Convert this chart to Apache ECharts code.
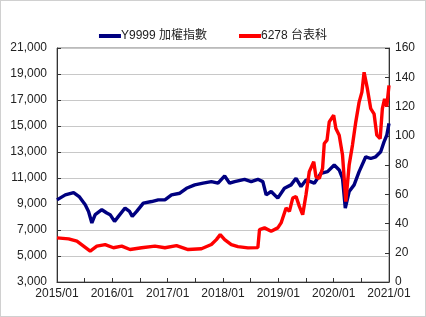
<!DOCTYPE html>
<html><head><meta charset="utf-8">
<script src="https://cdn.jsdelivr.net/npm/echarts@6/dist/echarts.min.js"></script>
<style>html,body{margin:0;padding:0;background:#fff}#c{width:426px;height:317px;box-sizing:border-box;border:1px solid #d0d0d0}</style>
</head><body><div id="c"></div>
<script>
const seriesNames = ['Y9999 加權指數', '6278 台表科'];
const xTicks = ['2015/01','2016/01','2017/01','2018/01','2019/01','2020/01','2021/01'];
const taiexTime = [2015.00,2015.15,2015.30,2015.40,2015.51,2015.57,2015.63,2015.69,2015.81,2015.90,2015.96,2016.04,2016.11,2016.23,2016.31,2016.36,2016.44,2016.56,2016.71,2016.83,2016.95,2017.07,2017.22,2017.34,2017.49,2017.64,2017.79,2017.91,2018.03,2018.12,2018.21,2018.39,2018.51,2018.63,2018.72,2018.78,2018.87,2018.99,2019.11,2019.23,2019.32,2019.41,2019.50,2019.65,2019.77,2019.89,2020.01,2020.10,2020.16,2020.21,2020.28,2020.37,2020.46,2020.58,2020.67,2020.76,2020.85,2020.91,2020.96,2021.00];
const taiexValue = [9320,9700,9880,9570,8940,8430,7540,8180,8560,8310,8180,7660,8050,8690,8430,8050,8430,9070,9190,9320,9320,9700,9830,10210,10470,10600,10720,10600,11160,10600,10720,10900,10720,10900,10720,9700,9960,9450,10210,10470,10980,10340,10850,10600,11360,11490,12000,11620,10980,8690,9960,10470,11490,12630,12500,12630,13020,13780,14290,15200];
const stockTime = [2015.00,2015.21,2015.36,2015.48,2015.60,2015.72,2015.87,2016.02,2016.17,2016.32,2016.53,2016.77,2016.95,2017.16,2017.37,2017.61,2017.79,2017.88,2017.95,2018.03,2018.15,2018.27,2018.45,2018.63,2018.66,2018.75,2018.87,2018.99,2019.05,2019.14,2019.20,2019.26,2019.32,2019.38,2019.44,2019.50,2019.56,2019.64,2019.68,2019.74,2019.80,2019.83,2019.88,2019.92,2020.00,2020.04,2020.10,2020.16,2020.22,2020.28,2020.34,2020.40,2020.46,2020.51,2020.55,2020.61,2020.67,2020.73,2020.78,2020.84,2020.88,2020.92,2020.96,2021.00];
const stockValue = [30.2,29.5,27.9,24.5,21.1,24.5,25.6,23.4,24.5,22.2,23.4,24.5,23.4,24.9,22.2,22.7,25.6,29,32.4,29,25.6,24.2,23.3,23.5,35.8,37,34.7,37,40.4,50.6,48.3,57.4,58.5,51.7,46,59.6,75.5,82.3,72,70.7,77.8,94.7,97,109.5,114,105,100.4,86.8,55,80,93.6,109.5,123,129.8,143.4,132,118.5,115,100.4,98,118.5,125.3,120,134.4];

const ch = echarts.init(document.getElementById('c'));
const font = 'Liberation Sans, Arial, Noto Sans CJK TC, sans-serif';
ch.setOption({
  animation: false,
  textStyle: {fontFamily: font},
  legend: {
    top: 24, left: 'center', itemWidth: 22, itemHeight: 4, itemGap: 32, icon: 'rect',
    textStyle: {fontSize: 12, color: '#222', fontFamily: font, padding: [0,0,0,-5]},
    data: seriesNames
  },
  grid: {left: 56, right: 36, top: 47, bottom: 34, show: true, borderColor: '#777', borderWidth: 1},
  xAxis: {
    type: 'value', min: 2015, max: 2021, interval: 0.5,
    axisLine: {lineStyle: {color: '#333'}},
    axisTick: {inside: true, length: 4, lineStyle: {color: '#333'}},
    splitLine: {show: false},
    axisLabel: {color: '#222', fontSize: 12, margin: 6,
      formatter: v => Number.isInteger(v) ? xTicks[v - 2015] : ''}
  },
  yAxis: [{
    type: 'value', min: 3000, max: 21000, interval: 2000,
    axisLine: {show: true, lineStyle: {color: '#333'}},
    axisTick: {show: true, inside: true, length: 4, lineStyle: {color: '#333'}},
    splitLine: {lineStyle: {color: '#c8c8c8'}},
    axisLabel: {color: '#222', fontSize: 12, margin: 10, formatter: v => v.toLocaleString('en-US')}
  }, {
    type: 'value', min: 0, max: 160, interval: 20, position: 'right',
    axisLine: {show: true, lineStyle: {color: '#333'}},
    axisTick: {show: true, inside: true, length: 4, lineStyle: {color: '#333'}},
    splitLine: {show: false},
    axisLabel: {color: '#222', fontSize: 12, margin: 6}
  }],
  series: [{
    name: seriesNames[0], type: 'line', yAxisIndex: 0, symbol: 'none', color: '#000080',
    lineStyle: {width: 3.4, color: '#000080'},
    data: taiexTime.map((t, i) => [t, taiexValue[i]])
  }, {
    name: seriesNames[1], type: 'line', yAxisIndex: 1, symbol: 'none', color: '#ff0000',
    lineStyle: {width: 3.4, color: '#ff0000'},
    data: stockTime.map((t, i) => [t, stockValue[i]])
  }]
});
</script></body></html>
